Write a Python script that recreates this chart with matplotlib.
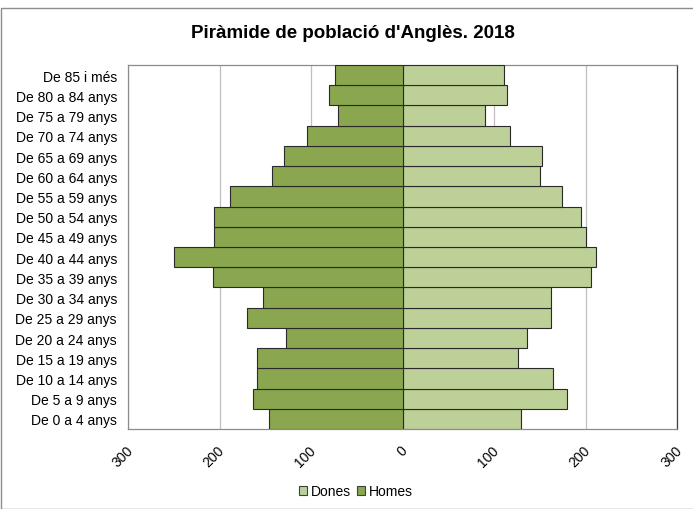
import matplotlib
matplotlib.use("Agg")
import matplotlib.pyplot as plt
from matplotlib.patches import Rectangle
import matplotlib.transforms as mtransforms
import numpy as np

plt.rcParams['font.family'] = ['Liberation Sans', 'DejaVu Sans']

categories = ["De 0 a 4 anys", "De 5 a 9 anys", "De 10 a 14 anys", "De 15 a 19 anys",
              "De 20 a 24 anys", "De 25 a 29 anys", "De 30 a 34 anys", "De 35 a 39 anys",
              "De 40 a 44 anys", "De 45 a 49 anys", "De 50 a 54 anys", "De 55 a 59 anys",
              "De 60 a 64 anys", "De 65 a 69 anys", "De 70 a 74 anys", "De 75 a 79 anys",
              "De 80 a 84 anys", "De 85 i més"]
homes = [146, 163, 159, 159, 127, 170, 153, 207, 250, 206, 206, 189, 143, 129, 104, 71, 80, 74]
dones = [130, 180, 164, 126, 136, 162, 162, 206, 212, 201, 195, 174, 150, 153, 118, 90, 114, 111]
xticks = [-300, -200, -100, 0, 100, 200, 300]
xticklabels = ["300", "200", "100", "0", "100", "200", "300"]

c_homes = "#8AA64E"
c_dones = "#BCD098"

fig = plt.figure(figsize=(6.93, 5.10), dpi=100)
ax = fig.add_axes([128/693, 1 - 430/510, (677-128)/693, (430-66)/510])

y = np.arange(len(categories))
ax.barh(y, dones, height=1.0, color=c_dones, edgecolor="#2a2a2a", linewidth=0.8, label="Dones", zorder=3)
ax.barh(y, [-v for v in homes], height=1.0, color=c_homes, edgecolor="#2a2a2a", linewidth=0.8, label="Homes", zorder=3)

ax.set_xlim(-300, 300)
ax.set_ylim(-0.5, len(categories) - 0.5)
ax.set_yticks(y)
ax.set_yticklabels(categories, fontsize=10)
ax.set_xticks(xticks)
ax.set_xticklabels(xticklabels, fontsize=10, rotation=45, ha="right", va="top",
                   rotation_mode="anchor")
ax.tick_params(axis="y", length=0, pad=8)
ax.tick_params(axis="x", length=0, pad=10)
offset = mtransforms.ScaledTranslation(-2/100, 0, fig.dpi_scale_trans)
for lab in ax.get_xticklabels():
    lab.set_transform(lab.get_transform() + offset)
ax.grid(axis="x", color="#BFBFBF", linewidth=0.9, zorder=0)
for s in ["left", "bottom", "top"]:
    ax.spines[s].set_color("#8C8C8C")
    ax.spines[s].set_linewidth(0.9)
ax.spines["right"].set_color("#404040")
ax.spines["right"].set_linewidth(0.9)

fig.text(353/693, 1 - 33/510, "Piràmide de població d'Anglès. 2018", ha="center", va="center",
         fontsize=13.5, fontweight="bold")

leg = fig.legend(loc="center", bbox_to_anchor=(356/693, 1 - 492/510), ncol=2, frameon=False,
                 fontsize=10, handlelength=0.6, handleheight=0.6, handletextpad=0.3,
                 columnspacing=0.4)
for h in leg.legend_handles:
    h.set_edgecolor("#404040")
    h.set_linewidth(0.8)

fig.patches.append(Rectangle((1/693, 0), 2, 1 - 9/510, transform=fig.transFigure,
                             fill=False, edgecolor="#8C8C8C", linewidth=1.0))

fig.savefig("out.png", dpi=100)
